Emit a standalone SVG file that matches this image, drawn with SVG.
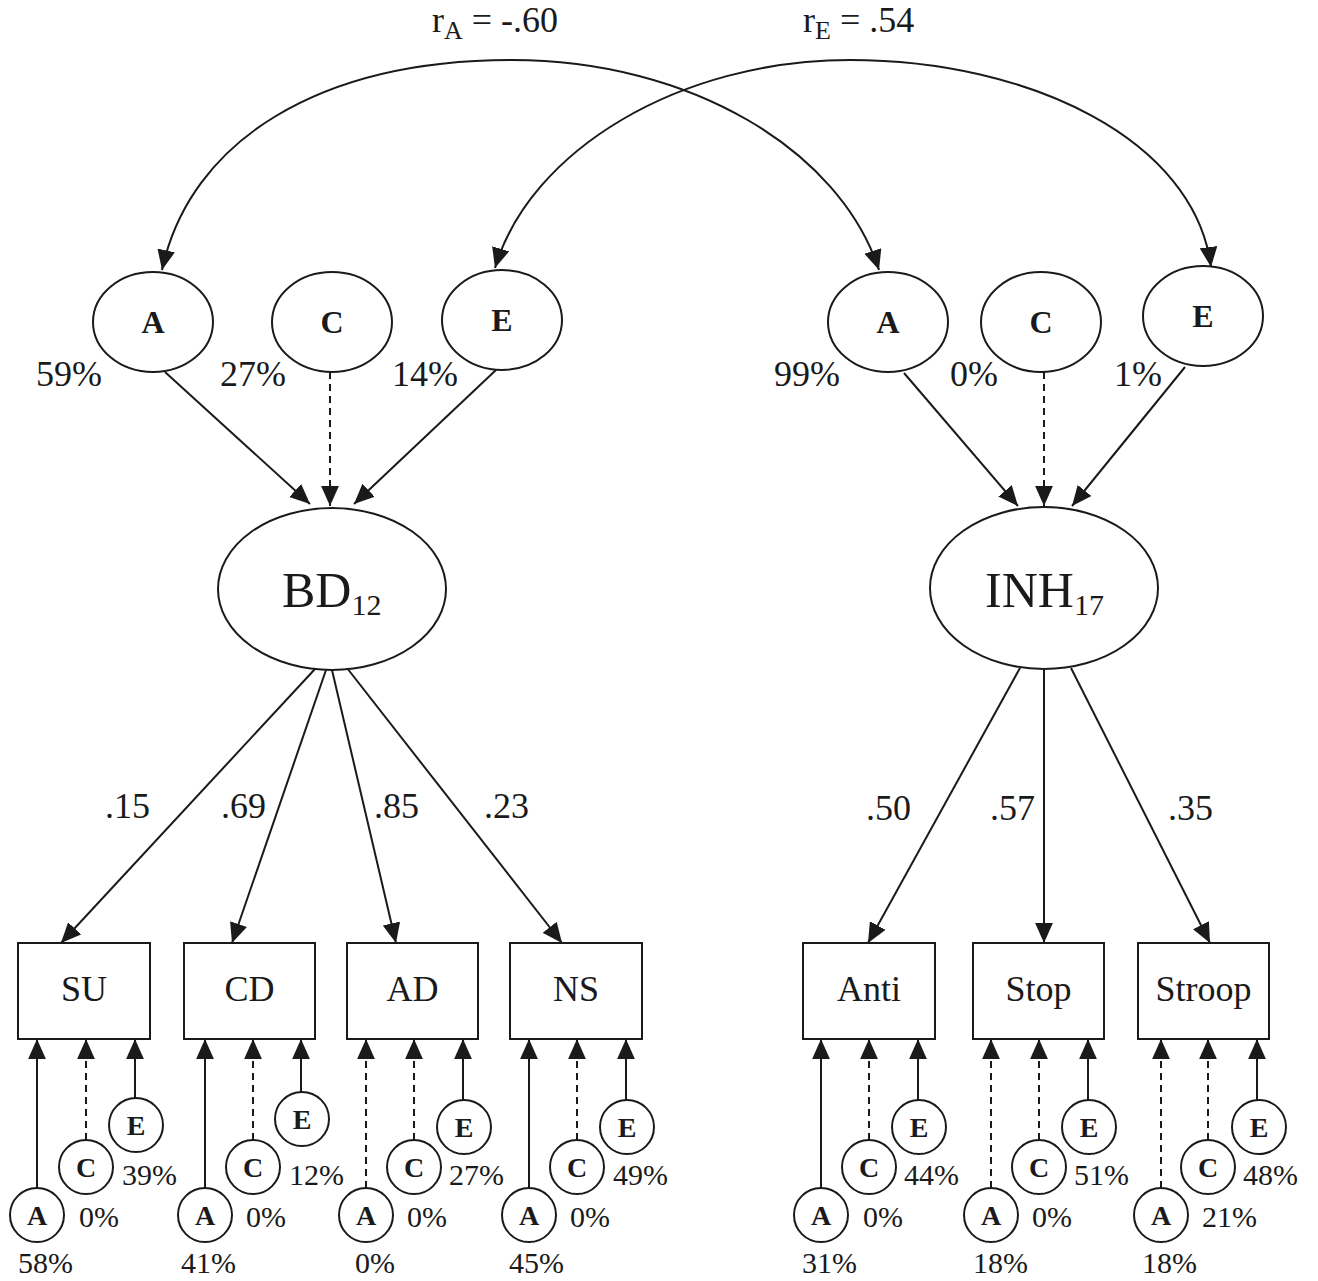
<svg xmlns="http://www.w3.org/2000/svg" width="1318" height="1281" viewBox="0 0 1318 1281">
<defs>
<marker id="ah" markerUnits="userSpaceOnUse" markerWidth="20" markerHeight="18" viewBox="0 0 18 16" refX="18" refY="8" orient="auto-start-reverse">
<path d="M0,0 L18,8 L0,16 z" fill="#1a1a1a"/>
</marker>
</defs>
<style>
.t{font-family:"Liberation Serif","Times New Roman",serif;fill:#1a1a1a}
.big{font-size:36px}
.sm{font-size:30px}
.lb{font-size:32px;font-weight:bold;text-anchor:middle}
.lbs{font-size:28px;font-weight:bold;text-anchor:middle}
.shape{fill:#fff;stroke:#1a1a1a;stroke-width:2}
.ln{fill:none;stroke:#1a1a1a;stroke-width:2;marker-end:url(#ah)}
.dash{stroke-dasharray:7,5}
.mid{text-anchor:middle}
</style>
<rect width="1318" height="1281" fill="#fff"/>

<g id="connectors">
<path class="ln" style="marker-start:url(#ah)" d="M162,270 C190,140 320,60 512,60 C690,60 840,150 879,270"/>
<path class="ln" style="marker-start:url(#ah)" d="M495,268 C530,150 680,60 850,60 C1030,60 1195,140 1211,267"/>
<line class="ln" x1="165" y1="372" x2="310" y2="504"/>
<line class="ln dash" x1="330" y1="372" x2="330" y2="506"/>
<line class="ln" x1="496" y1="370" x2="354" y2="504"/>
<line class="ln" x1="904" y1="373" x2="1018" y2="506"/>
<line class="ln dash" x1="1044" y1="372" x2="1044" y2="506"/>
<line class="ln" x1="1185" y1="367" x2="1072" y2="506"/>
<line class="ln" x1="315" y1="669" x2="61" y2="943"/>
<line class="ln" x1="326" y1="670" x2="232" y2="943"/>
<line class="ln" x1="332" y1="670" x2="396" y2="943"/>
<line class="ln" x1="347" y1="668" x2="562" y2="943"/>
<line class="ln" x1="1020" y1="668" x2="868" y2="943"/>
<line class="ln" x1="1044" y1="670" x2="1044" y2="943"/>
<line class="ln" x1="1071" y1="668" x2="1210" y2="943"/>
<line class="ln" x1="37" y1="1188" x2="37" y2="1039"/>
<line class="ln dash" x1="86" y1="1140" x2="86" y2="1039"/>
<line class="ln" x1="135" y1="1098" x2="135" y2="1039"/>
<line class="ln" x1="205" y1="1188" x2="205" y2="1039"/>
<line class="ln dash" x1="253" y1="1140" x2="253" y2="1039"/>
<line class="ln" x1="301" y1="1092" x2="301" y2="1039"/>
<line class="ln dash" x1="366" y1="1188" x2="366" y2="1039"/>
<line class="ln dash" x1="414" y1="1140" x2="414" y2="1039"/>
<line class="ln" x1="463" y1="1100" x2="463" y2="1039"/>
<line class="ln" x1="529" y1="1188" x2="529" y2="1039"/>
<line class="ln dash" x1="577" y1="1140" x2="577" y2="1039"/>
<line class="ln" x1="626" y1="1100" x2="626" y2="1039"/>
<line class="ln" x1="821" y1="1188" x2="821" y2="1039"/>
<line class="ln dash" x1="869" y1="1140" x2="869" y2="1039"/>
<line class="ln" x1="918" y1="1100" x2="918" y2="1039"/>
<line class="ln dash" x1="991" y1="1188" x2="991" y2="1039"/>
<line class="ln dash" x1="1039" y1="1140" x2="1039" y2="1039"/>
<line class="ln" x1="1088" y1="1100" x2="1088" y2="1039"/>
<line class="ln dash" x1="1161" y1="1188" x2="1161" y2="1039"/>
<line class="ln dash" x1="1208" y1="1140" x2="1208" y2="1039"/>
<line class="ln" x1="1257" y1="1100" x2="1257" y2="1039"/>
</g>

<g id="labels">
<text class="t big" x="432" y="32">r<tspan font-size="26" dy="7">A</tspan><tspan dy="-7"> = -.60</tspan></text>
<text class="t big" x="803" y="32">r<tspan font-size="26" dy="7">E</tspan><tspan dy="-7"> = .54</tspan></text>
<text class="t big" x="36" y="386">59%</text>
<text class="t big" x="220" y="386">27%</text>
<text class="t big" x="392" y="386">14%</text>
<text class="t big" x="774" y="386">99%</text>
<text class="t big" x="950" y="386">0%</text>
<text class="t big" x="1114" y="386">1%</text>
<text class="t big" x="105" y="818">.15</text>
<text class="t big" x="221" y="818">.69</text>
<text class="t big" x="374" y="818">.85</text>
<text class="t big" x="484" y="818">.23</text>
<text class="t big" x="866" y="820">.50</text>
<text class="t big" x="990" y="820">.57</text>
<text class="t big" x="1168" y="820">.35</text>
</g>

<g id="BD_A"><ellipse class="shape" cx="153" cy="322" rx="60" ry="50"/><text class="t lb" x="153" y="333">A</text></g>
<g id="BD_C"><ellipse class="shape" cx="332" cy="322" rx="60" ry="50"/><text class="t lb" x="332" y="333">C</text></g>
<g id="BD_E"><ellipse class="shape" cx="502" cy="320" rx="60" ry="50"/><text class="t lb" x="502" y="331">E</text></g>
<g id="INH_A"><ellipse class="shape" cx="888" cy="322" rx="60" ry="50"/><text class="t lb" x="888" y="333">A</text></g>
<g id="INH_C"><ellipse class="shape" cx="1041" cy="322" rx="60" ry="50"/><text class="t lb" x="1041" y="333">C</text></g>
<g id="INH_E"><ellipse class="shape" cx="1203" cy="316" rx="60" ry="50"/><text class="t lb" x="1203" y="327">E</text></g>

<g id="BD12"><ellipse class="shape" cx="332" cy="589" rx="114" ry="81"/><text class="t" x="282" y="607" font-size="50">BD<tspan font-size="30" dy="8">12</tspan></text></g>
<g id="INH17"><ellipse class="shape" cx="1044" cy="588" rx="114" ry="81"/><text class="t" x="985" y="607" font-size="50">INH<tspan font-size="30" dy="8">17</tspan></text></g>

<g id="SU"><rect class="shape" x="18" y="943" width="132" height="96"/><text class="t big mid" x="84" y="1001">SU</text>
<circle class="shape" cx="37" cy="1215" r="27"/><text class="t lbs" x="37" y="1225">A</text>
<circle class="shape" cx="86" cy="1167" r="27"/><text class="t lbs" x="86" y="1177">C</text>
<circle class="shape" cx="136" cy="1125" r="27"/><text class="t lbs" x="136" y="1135">E</text>
<text class="t sm" x="122" y="1185">39%</text><text class="t sm" x="79" y="1227">0%</text><text class="t sm" x="18" y="1273">58%</text></g>

<g id="CD"><rect class="shape" x="184" y="943" width="131" height="96"/><text class="t big mid" x="249.5" y="1001">CD</text>
<circle class="shape" cx="205" cy="1215" r="27"/><text class="t lbs" x="205" y="1225">A</text>
<circle class="shape" cx="253" cy="1167" r="27"/><text class="t lbs" x="253" y="1177">C</text>
<circle class="shape" cx="302" cy="1119" r="27"/><text class="t lbs" x="302" y="1129">E</text>
<text class="t sm" x="289" y="1185">12%</text><text class="t sm" x="246" y="1227">0%</text><text class="t sm" x="181" y="1273">41%</text></g>

<g id="AD"><rect class="shape" x="347" y="943" width="131" height="96"/><text class="t big mid" x="412.5" y="1001">AD</text>
<circle class="shape" cx="366" cy="1215" r="27"/><text class="t lbs" x="366" y="1225">A</text>
<circle class="shape" cx="414" cy="1167" r="27"/><text class="t lbs" x="414" y="1177">C</text>
<circle class="shape" cx="464" cy="1127" r="27"/><text class="t lbs" x="464" y="1137">E</text>
<text class="t sm" x="449" y="1185">27%</text><text class="t sm" x="407" y="1227">0%</text><text class="t sm" x="355" y="1273">0%</text></g>

<g id="NS"><rect class="shape" x="510" y="943" width="132" height="96"/><text class="t big mid" x="576" y="1001">NS</text>
<circle class="shape" cx="529" cy="1215" r="27"/><text class="t lbs" x="529" y="1225">A</text>
<circle class="shape" cx="577" cy="1167" r="27"/><text class="t lbs" x="577" y="1177">C</text>
<circle class="shape" cx="627" cy="1127" r="27"/><text class="t lbs" x="627" y="1137">E</text>
<text class="t sm" x="613" y="1185">49%</text><text class="t sm" x="570" y="1227">0%</text><text class="t sm" x="509" y="1273">45%</text></g>

<g id="Anti"><rect class="shape" x="803" y="943" width="132" height="96"/><text class="t big mid" x="869" y="1001">Anti</text>
<circle class="shape" cx="821" cy="1215" r="27"/><text class="t lbs" x="821" y="1225">A</text>
<circle class="shape" cx="869" cy="1167" r="27"/><text class="t lbs" x="869" y="1177">C</text>
<circle class="shape" cx="919" cy="1127" r="27"/><text class="t lbs" x="919" y="1137">E</text>
<text class="t sm" x="904" y="1185">44%</text><text class="t sm" x="863" y="1227">0%</text><text class="t sm" x="802" y="1273">31%</text></g>

<g id="Stop"><rect class="shape" x="973" y="943" width="131" height="96"/><text class="t big mid" x="1038.5" y="1001">Stop</text>
<circle class="shape" cx="991" cy="1215" r="27"/><text class="t lbs" x="991" y="1225">A</text>
<circle class="shape" cx="1039" cy="1167" r="27"/><text class="t lbs" x="1039" y="1177">C</text>
<circle class="shape" cx="1089" cy="1127" r="27"/><text class="t lbs" x="1089" y="1137">E</text>
<text class="t sm" x="1074" y="1185">51%</text><text class="t sm" x="1032" y="1227">0%</text><text class="t sm" x="973" y="1273">18%</text></g>

<g id="Stroop"><rect class="shape" x="1138" y="943" width="131" height="96"/><text class="t big mid" x="1203.5" y="1001">Stroop</text>
<circle class="shape" cx="1161" cy="1215" r="27"/><text class="t lbs" x="1161" y="1225">A</text>
<circle class="shape" cx="1208" cy="1167" r="27"/><text class="t lbs" x="1208" y="1177">C</text>
<circle class="shape" cx="1259" cy="1127" r="27"/><text class="t lbs" x="1259" y="1137">E</text>
<text class="t sm" x="1243" y="1185">48%</text><text class="t sm" x="1202" y="1227">21%</text><text class="t sm" x="1142" y="1273">18%</text></g>
</svg>
